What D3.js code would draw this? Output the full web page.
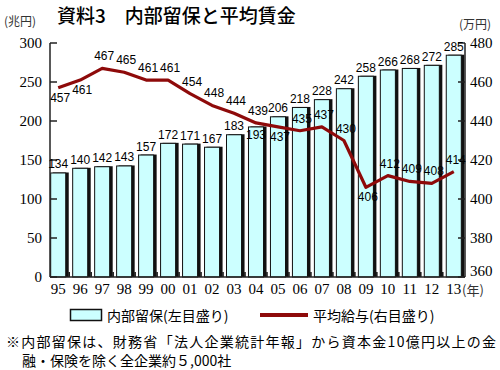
<!DOCTYPE html>
<html lang="ja">
<head>
<meta charset="UTF-8">
<title>資料3 内部留保と平均賃金</title>
<script src="https://d3js.org/d3.v7.min.js"></script>
<style>
  body { margin: 0; background: #fff; }
  svg { display: block; }
  .jp { font-family: "Noto Sans CJK JP", "Noto Sans", sans-serif; }
  .num { font-family: "Liberation Sans", Arial, sans-serif; font-size: 12px; }
  .tick { font-family: "Liberation Serif", "DejaVu Serif", serif; font-size: 15px; }
</style>
</head>
<body>
<div id="chart"></div>
<script>
// data
const years = ["95","96","97","98","99","00","01","02","03","04","05","06","07","08","09","10","11","12","13"];
const reserves = [134,140,142,143,157,172,171,167,183,193,206,218,228,242,258,266,268,272,285]; // 兆円
const wages = [457,461,467,465,461,461,454,448,444,439,437,435,437,430,406,412,409,408,414];      // 万円
const leftTicks = [0,50,100,150,200,250,300];
const rightTicks = [360,380,400,420,440,460,480];
// label side: -1 above, 1 below / inside
const wageLabelSide = [1,1,-1,-1,-1,-1,-1,-1,-1,-1,1,-1,-1,-1,1,-1,-1,-1,-1];
const reserveLabelSide = [-1,-1,-1,-1,-1,-1,-1,-1,-1,1,-1,-1,-1,-1,-1,-1,-1,-1,-1];

const W = 500, H = 370;
const plotTop = 43, plotBottom = 277, plotLeft = 50, plotRight = 465;
const lineColor = "#8e0a0a";
const barFill = "#ccffff";

const svg = d3.select("#chart").append("svg")
    .attr("width", W)
    .attr("height", H);

const x = d3.scaleBand()
    .domain(years)
    .range([48, 464])
    .paddingInner(0.27)
    .paddingOuter(0.1);

const yL = d3.scaleLinear().domain([0, 300]).range([plotBottom, plotTop]);
const yR = d3.scaleLinear().domain([360, 480]).range([plotBottom, plotTop]);

// title and units
svg.append("text").attr("class", "jp")
    .attr("x", 57).attr("y", 14)
    .attr("font-size", 19).attr("font-weight", 500)
    .attr("dominant-baseline", "central")
    .text("資料3　内部留保と平均賃金");
svg.append("text").attr("class", "jp")
    .attr("x", 4).attr("y", 20).attr("font-size", 12).attr("fill", "#333")
    .attr("dominant-baseline", "central")
    .text("(兆円)");
svg.append("text").attr("class", "jp")
    .attr("x", 459).attr("y", 23).attr("font-size", 12).attr("fill", "#333")
    .attr("dominant-baseline", "central")
    .text("(万円)");

// bars: black shadow then cyan bar
const bw = x.bandwidth();
svg.append("g").selectAll("rect")
    .data(reserves)
    .join("rect")
    .attr("x", (d, i) => x(years[i]) + 2.5)
    .attr("y", d => yL(d))
    .attr("width", bw)
    .attr("height", d => plotBottom - yL(d))
    .attr("fill", "#111");

svg.append("g").selectAll("rect")
    .data(reserves)
    .join("rect")
    .attr("x", (d, i) => x(years[i]) + 0.5)
    .attr("y", d => yL(d) + 0.5)
    .attr("width", bw - 1)
    .attr("height", d => plotBottom - yL(d) - 0.5)
    .attr("fill", barFill)
    .attr("stroke", "#111")
    .attr("stroke-width", 1);

// small ticks between bars
const step = x.step();
svg.append("g").selectAll("line")
    .data(years.slice(1))
    .join("line")
    .attr("x1", d => x(d) - step * x.paddingInner() / 2)
    .attr("x2", d => x(d) - step * x.paddingInner() / 2)
    .attr("y1", plotBottom)
    .attr("y2", plotBottom - 5)
    .attr("stroke", "#111")
    .attr("stroke-width", 1.5);

// axes
const axisG = svg.append("g").attr("stroke", "#222").attr("stroke-width", 1.5);
axisG.append("line").attr("x1", plotLeft).attr("x2", plotLeft).attr("y1", plotTop).attr("y2", plotBottom);
axisG.append("line").attr("x1", plotRight).attr("x2", plotRight).attr("y1", plotTop).attr("y2", plotBottom);
axisG.append("line").attr("x1", plotLeft).attr("x2", plotRight).attr("y1", plotBottom).attr("y2", plotBottom);
axisG.selectAll(".lt").data(leftTicks).join("line").attr("class", "lt")
    .attr("x1", plotLeft).attr("x2", plotLeft + 7)
    .attr("y1", d => yL(d)).attr("y2", d => yL(d));
axisG.selectAll(".rt").data(rightTicks).join("line").attr("class", "rt")
    .attr("x1", plotRight - 7).attr("x2", plotRight)
    .attr("y1", d => yR(d)).attr("y2", d => yR(d));

svg.append("g").selectAll("text")
    .data(leftTicks)
    .join("text").attr("class", "tick")
    .attr("x", 42).attr("y", d => yL(d))
    .attr("text-anchor", "end").attr("dominant-baseline", "central")
    .text(d => d);

svg.append("g").selectAll("text")
    .data(rightTicks)
    .join("text").attr("class", "tick")
    .attr("x", 470).attr("y", d => d === 360 ? yR(d) - 6 : yR(d))
    .attr("dominant-baseline", "central")
    .text(d => d);

svg.append("g").selectAll("text")
    .data(years)
    .join("text").attr("class", "tick")
    .attr("x", d => x(d) + bw / 2)
    .attr("y", 289)
    .attr("text-anchor", "middle").attr("dominant-baseline", "central")
    .text(d => d);
svg.append("text").attr("class", "jp")
    .attr("x", 462).attr("y", 289).attr("font-size", 13)
    .attr("dominant-baseline", "central").attr("fill", "#333")
    .text("(年)");

// bar value labels
svg.append("g").selectAll("text")
    .data(reserves)
    .join("text").attr("class", "num")
    .attr("x", (d, i) => x(years[i]) + bw / 2)
    .attr("y", (d, i) => reserveLabelSide[i] < 0 ? yL(d) - 4 : yL(d) + 13)
    .attr("text-anchor", "middle")
    .text(d => d);

// wage line
const line = d3.line()
    .x((d, i) => x(years[i]) + bw / 2)
    .y(d => yR(d));
svg.append("path")
    .datum(wages)
    .attr("d", line)
    .attr("fill", "none")
    .attr("stroke", lineColor)
    .attr("stroke-width", 3.2)
    .attr("stroke-linejoin", "round");

svg.append("g").selectAll("text")
    .data(wages)
    .join("text").attr("class", "num")
    .attr("x", (d, i) => x(years[i]) + bw / 2 + 2)
    .attr("y", (d, i) => yR(d) + (wageLabelSide[i] < 0 ? -12 : 10))
    .attr("text-anchor", "middle").attr("dominant-baseline", "central")
    .text(d => d);

// legend
const lg = svg.append("g");
lg.append("rect").attr("x", 70.5).attr("y", 309.5).attr("width", 31).attr("height", 11)
    .attr("fill", barFill).attr("stroke", "#111").attr("stroke-width", 1.5);
lg.append("text").attr("class", "jp").attr("x", 107).attr("y", 315)
    .attr("font-size", 14).attr("dominant-baseline", "central")
    .text("内部留保(左目盛り)");
lg.append("line").attr("x1", 260).attr("x2", 308).attr("y1", 315).attr("y2", 315)
    .attr("stroke", lineColor).attr("stroke-width", 4);
lg.append("text").attr("class", "jp").attr("x", 313).attr("y", 315)
    .attr("font-size", 14).attr("dominant-baseline", "central")
    .text("平均給与(右目盛り)");

// footnote
svg.append("text").attr("class", "jp")
    .attr("x", 6).attr("y", 341).attr("font-size", 14)
    .attr("dominant-baseline", "central")
    .attr("textLength", 490).attr("lengthAdjust", "spacing")
    .text("※内部留保は、財務省「法人企業統計年報」から資本金10億円以上の金");
svg.append("text").attr("class", "jp")
    .attr("x", 22).attr("y", 360).attr("font-size", 14)
    .attr("dominant-baseline", "central")
    .text("融・保険を除く全企業約５,000社");
</script>
</body>
</html>
